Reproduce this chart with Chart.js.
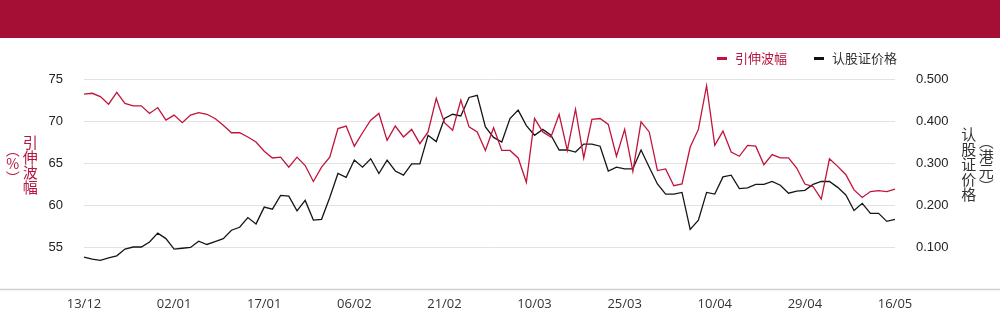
<!DOCTYPE html>
<html>
<head>
<meta charset="utf-8">
<script src="https://cdn.jsdelivr.net/npm/chart.js@4.4.1/dist/chart.umd.min.js"></script>
<style>
  html, body { margin: 0; padding: 0; background: #fff; }
  #wrap { position: relative; width: 1000px; height: 324px; overflow: hidden; font-family: "Noto Sans CJK SC", "Noto Sans", sans-serif; }
  #band { position: absolute; left: 0; top: 0; width: 1000px; height: 38px; background: #a50e35; }
  #cv { position: absolute; left: 0; top: 0; }
  .legend { position: absolute; top: 49px; font-size: 13px; line-height: 18px; white-space: nowrap; }
  .legend i { display: inline-block; width: 10px; height: 3px; vertical-align: middle; margin-right: 8px; position: relative; top: -1px; }
  .col { position: absolute; width: 18px; font-size: 15px; line-height: 15.5px; text-align: center;
         writing-mode: vertical-rl; text-orientation: upright; white-space: nowrap;
         display: flex; align-items: center; justify-content: center; }
</style>
</head>
<body>
<div id="wrap">
  <div id="band"></div>
  <canvas id="cv" width="1000" height="324"></canvas>
  <div class="legend" style="left:717px;color:#b5163f"><i style="background:#c0143c"></i>引伸波幅</div>
  <div class="legend" style="left:814px;color:#333"><i style="background:#111"></i>认股证价格</div>
  <!-- left axis title, two vertical columns -->
  <div class="col" style="left:21px;top:134px;height:62px;color:#b5163f">引伸波幅</div>
  <div class="col" style="left:3px;top:148px;height:32px;color:#b5163f;font-size:14px">︵%︶</div>
  <!-- right axis title, two vertical columns -->
  <div class="col" style="left:959px;top:123px;height:82px;color:#333;line-height:16.5px">认股证价格</div>
  <div class="col" style="left:977px;top:142px;height:44px;color:#333">︵港元︶</div>
</div>
<script>
// Trading days, 13 Dec to 16 May
const dates = [
  "13/12","16/12","17/12","18/12","19/12","20/12","23/12","24/12","27/12","30/12","31/12",
  "02/01","03/01","06/01","07/01","08/01","09/01","10/01","13/01","14/01","15/01","16/01","17/01",
  "20/01","21/01","22/01","23/01","24/01","27/01","28/01",
  "03/02","04/02","05/02","06/02",
  "07/02","10/02","11/02","12/02","13/02","14/02","17/02","18/02","19/02","20/02","21/02",
  "24/02","25/02","26/02","27/02","28/02",
  "03/03","04/03","05/03","06/03","07/03","10/03",
  "11/03","12/03","13/03","14/03","17/03","18/03","19/03","20/03","21/03","24/03","25/03",
  "26/03","27/03","28/03","31/03",
  "01/04","02/04","03/04","07/04","08/04","09/04","10/04",
  "11/04","14/04","15/04","16/04","17/04","22/04","23/04","24/04","25/04","28/04","29/04",
  "30/04","02/05","06/05","07/05","08/05","09/05","12/05","13/05","14/05","15/05","16/05"
];

// Implied volatility (%), left axis
const impliedVol = [
  73.2,73.3,72.9,72.0,73.4,72.1,71.8,71.8,70.9,71.6,
  70.1,70.7,69.8,70.7,71.0,70.8,70.3,69.5,68.6,68.6,
  68.1,67.5,66.4,65.6,65.7,64.5,65.7,64.7,62.8,64.5,
  65.7,69.1,69.4,67.0,68.6,70.1,70.9,67.7,69.4,68.1,
  69.0,67.3,68.7,72.7,69.8,68.9,72.5,69.3,68.7,66.5,
  69.2,66.5,66.5,65.6,62.7,70.3,68.7,68.1,70.8,66.5,
  71.4,65.6,70.2,70.3,69.6,65.8,69.0,64.0,69.9,68.7,
  64.1,64.3,62.3,62.5,66.9,69.0,74.2,67.1,68.8,66.3,
  65.8,67.1,67.0,64.8,66.0,65.6,65.6,64.4,62.5,62.2,
  60.7,65.5,64.6,63.6,61.8,60.9,61.6,61.7,61.6,61.9
];

// Warrant price (HKD), right axis
const warrantPrice = [
  0.076,0.071,0.068,0.074,0.079,0.095,0.100,0.100,0.112,0.133,
  0.120,0.095,0.097,0.099,0.114,0.106,0.113,0.120,0.140,0.147,
  0.170,0.155,0.195,0.190,0.223,0.221,0.186,0.211,0.164,0.166,
  0.218,0.275,0.266,0.307,0.290,0.310,0.275,0.307,0.281,0.271,
  0.298,0.298,0.366,0.351,0.406,0.416,0.412,0.456,0.461,0.386,
  0.361,0.350,0.406,0.426,0.389,0.366,0.380,0.366,0.331,0.331,
  0.326,0.345,0.345,0.340,0.281,0.290,0.286,0.286,0.331,0.290,
  0.250,0.226,0.226,0.230,0.142,0.164,0.230,0.226,0.267,0.271,
  0.239,0.241,0.249,0.249,0.256,0.247,0.228,0.233,0.235,0.249,
  0.256,0.256,0.242,0.224,0.187,0.204,0.180,0.180,0.161,0.166
];

const seriesNames = ["引伸波幅", "认股证价格"];
const labelEvery = 11;

// Full-width base line under the plot
const baseLine = {
  id: 'baseLine',
  afterDraw(chart) {
    const ctx = chart.ctx;
    const y = Math.round(chart.chartArea.bottom) + 0.5;
    ctx.save();
    ctx.strokeStyle = '#cfcfcf';
    ctx.lineWidth = 1.5;
    ctx.beginPath();
    ctx.moveTo(0, y);
    ctx.lineTo(chart.width, y);
    ctx.stroke();
    ctx.restore();
  }
};

new Chart(document.getElementById('cv'), {
  type: 'line',
  data: {
    labels: dates,
    datasets: [
      { label: seriesNames[0], data: impliedVol, yAxisID: 'y',
        borderColor: '#c0143c', borderWidth: 1.3, pointRadius: 0, tension: 0 },
      { label: seriesNames[1], data: warrantPrice, yAxisID: 'y1',
        borderColor: '#161616', borderWidth: 1.3, pointRadius: 0, tension: 0 }
    ]
  },
  options: {
    responsive: false,
    animation: false,
    devicePixelRatio: 1,
    layout: { padding: { top: 79, left: 0, right: 0, bottom: 0 } },
    plugins: { legend: { display: false }, tooltip: { enabled: false } },
    scales: {
      x: {
        grid: { display: false, drawTicks: false },
        border: { display: false },
        ticks: {
          autoSkip: false, maxRotation: 0, padding: 7,
          color: '#333', font: { family: 'Open Sans', size: 13 },
          callback: (v, i) => (i % labelEvery === 0 ? dates[i] : '')
        },
        afterFit: s => { s.height = 35; }
      },
      y: {
        position: 'left', min: 50, max: 75,
        grid: { color: '#e2e2e2', lineWidth: 1, drawTicks: false },
        border: { display: false },
        ticks: {
          stepSize: 5, padding: 21, color: '#222',
          font: { family: 'Liberation Sans', size: 13 },
          callback: v => (v === 50 ? '' : v)
        },
        afterFit: s => { s.width = 84; }
      },
      y1: {
        position: 'right', min: 0, max: 0.5,
        grid: { display: false, drawTicks: false },
        border: { display: false },
        ticks: {
          stepSize: 0.1, padding: 21, color: '#222',
          font: { family: 'Liberation Sans', size: 13 },
          callback: v => (v === 0 ? '' : Number(v).toFixed(3))
        },
        afterFit: s => { s.width = 105; }
      }
    }
  },
  plugins: [baseLine]
});
</script>
</body>
</html>
